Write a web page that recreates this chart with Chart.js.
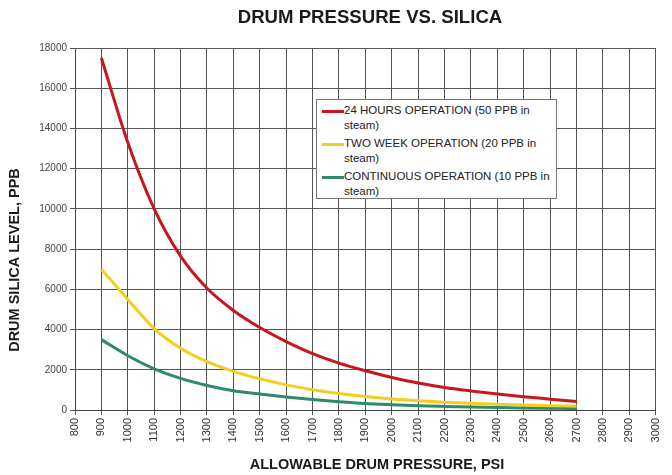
<!DOCTYPE html>
<html>
<head>
<meta charset="utf-8">
<script src="https://cdn.jsdelivr.net/npm/chart.js@4.4.0/dist/chart.umd.min.js"></script>
<style>
  html, body { margin: 0; padding: 0; background: #fff; }
  #wrap { position: relative; width: 672px; height: 475px; }
  #legend {
    position: absolute; left: 316px; top: 99px; width: 241px; height: 100px;
    border: 1px solid #777; background: #fff; padding: 3px 4px 3px 5px;
    font-family: "Liberation Sans", Arial, sans-serif; font-size: 11.5px; color: #222;
    box-sizing: border-box;
  }
  .item { display: flex; align-items: flex-start; margin: 0 0 3px 0; line-height: 15px; }
  .swatch { width: 22px; height: 3px; margin-top: 7px; flex: none; }
</style>
</head>
<body>
<div id="wrap">
  <canvas id="chart" width="672" height="475"></canvas>
  <div id="legend"></div>
</div>
<script>
const pressures = [900, 1000, 1100, 1200, 1300, 1400, 1500, 1600, 1700, 1800, 1900, 2000, 2100, 2200, 2300, 2400, 2500, 2600, 2700];
const hours24 = [17500, 13300, 10000, 7650, 6050, 4950, 4100, 3400, 2800, 2330, 1950, 1620, 1340, 1120, 950, 800, 660, 540, 420];
const twoWeek = [7000, 5500, 4050, 3070, 2400, 1920, 1550, 1250, 1010, 820, 670, 550, 460, 390, 335, 290, 250, 215, 185];
const continuous = [3500, 2700, 2050, 1570, 1220, 960, 790, 650, 520, 410, 320, 260, 210, 175, 145, 120, 100, 85, 70];
const seriesNames = ['24 HOURS OPERATION (50 PPB in steam)', 'TWO WEEK OPERATION (20 PPB in steam)', 'CONTINUOUS OPERATION (10 PPB in steam)'];
const seriesColors = ['#c8161d', '#f2cf1f', '#2f8a68'];
const chartTitle = 'DRUM PRESSURE VS. SILICA';
const xTitle = 'ALLOWABLE DRUM PRESSURE, PSI';
const yTitle = 'DRUM SILICA LEVEL, PPB';

const toPoints = (vals) => vals.map((v, i) => ({ x: pressures[i], y: v }));

// titles drawn by hand: in the original they sit a bit off the plot centre
const titlePlugin = {
  id: 'titles',
  afterDraw(chart) {
    const { ctx } = chart;
    ctx.save();
    ctx.fillStyle = '#1a1a1a';
    ctx.textAlign = 'center';
    ctx.textBaseline = 'middle';
    ctx.font = 'bold 18.6px "Liberation Sans", Arial, sans-serif';
    ctx.fillText(chartTitle, 370, 18);
    ctx.font = 'bold 14.5px "Liberation Sans", Arial, sans-serif';
    ctx.fillText(xTitle, 377, 465);
    ctx.translate(15, 260);
    ctx.rotate(-Math.PI / 2);
    ctx.fillText(yTitle, 0, 0);
    ctx.restore();
  }
};

const plainNum = (v) => String(v);

new Chart(document.getElementById('chart'), {
  type: 'line',
  data: {
    datasets: [hours24, twoWeek, continuous].map((vals, i) => ({
      label: seriesNames[i],
      data: toPoints(vals),
      borderColor: seriesColors[i],
      borderWidth: 3,
      cubicInterpolationMode: 'monotone',
      pointRadius: 0,
      fill: false
    }))
  },
  options: {
    responsive: false,
    animation: false,
    layout: { padding: { top: 48, right: 9, left: 0, bottom: 0 } },
    plugins: { legend: { display: false }, tooltip: { enabled: false } },
    scales: {
      x: {
        type: 'linear', min: 800, max: 3000,
        ticks: { stepSize: 100, minRotation: 90, maxRotation: 90, color: '#333', autoSkip: false, callback: plainNum,
                 font: { family: '"Liberation Sans", Arial, sans-serif', size: 11 } },
        grid: { color: '#555', tickLength: 5 },
        border: { color: '#444' },
        afterFit(scale) { scale.height = 65; }
      },
      y: {
        min: 0, max: 18000,
        ticks: { stepSize: 2000, color: '#444', callback: plainNum,
                 font: { family: '"Liberation Sans", Arial, sans-serif', size: 10 } },
        grid: { color: '#555', tickLength: 5 },
        border: { color: '#444' },
        afterFit(scale) { scale.width = 75; }
      }
    }
  },
  plugins: [titlePlugin]
});

const legend = document.getElementById('legend');
seriesNames.forEach((name, i) => {
  const item = document.createElement('div');
  item.className = 'item';
  item.innerHTML = '<div class="swatch" style="background:' + seriesColors[i] + '"></div><div>' + name + '</div>';
  legend.appendChild(item);
});
</script>
</body>
</html>
